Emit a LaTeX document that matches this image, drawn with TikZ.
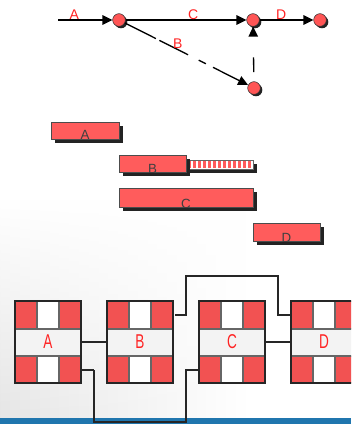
\documentclass[tikz,border=0pt]{standalone}
\usepackage{fontspec}
\usepackage{graphicx}
\setmainfont{Liberation Sans}
\usetikzlibrary{arrows.meta,calc,fadings}
\definecolor{evred}{RGB}{255,85,85}
\definecolor{barred}{RGB}{255,92,92}
\definecolor{labred}{RGB}{255,35,35}
\definecolor{cellred}{RGB}{242,82,82}
\definecolor{midgrey}{RGB}{243,243,243}
\definecolor{bandblue}{RGB}{32,118,174}
\definecolor{shadowgrey}{RGB}{35,35,35}

\tikzset{
  event/.style={circle, draw=black!80, fill=evred, minimum size=9.5pt, inner sep=0pt},
  act/.style={line width=1.5pt, -{Triangle[length=7.5pt,width=7pt]}},
  dummy/.style={line width=1pt, -{Triangle[length=7.5pt,width=7pt]}},
  netlab/.style={text=labred, font=\fontsize{10.5}{12}\selectfont, inner sep=1pt},
  ganttlab/.style={text=black!75, font=\fontsize{10}{12}\selectfont, inner sep=0pt, anchor=base},
  pbox/.style={fill=midgrey, minimum width=49.5pt, minimum height=61.5pt, inner sep=0pt,
    text=labred, font=\fontsize{15}{17}\selectfont},
  cellline/.style={draw=black!60, line width=0.8pt},
  boxline/.style={draw=black!85, line width=1.6pt},
  link/.style={draw=black!85, line width=0.8pt},
}

\newcommand{\eventnode}[3]{% name, x, y
  \fill[shadowgrey] (#2+2,#3+2) circle (6.3);
  \node[event] (#1) at (#2,#3) {};
}

\newcommand{\ganttbar}[5]{% x1, y1, x2, y2, label
  \fill[shadowgrey] (#1+4,#2+4) rectangle (#3+4,#4+4);
  \draw[black!70, fill=barred, line width=0.6pt] (#1,#2) rectangle (#3,#4);
  \node[ganttlab] at ({(#1+#3)/2},#4+1) {#5};
}

\newcommand{\pertbox}[3]{% name, centre x, label
  \node[pbox] (#1) at (#2,342) {\raisebox{-2.5pt}{\scalebox{0.68}[1]{#3}}};
  \foreach \c in {-33,11} {
    \fill[cellred] (#2+\c,301) rectangle ++(22,28);
    \fill[cellred] (#2+\c,356) rectangle ++(22,27);
  }
  \fill[white] (#2-11,301) rectangle ++(22,28);
  \fill[white] (#2-11,356) rectangle ++(22,27);
  \draw[cellline] (#2-33,329) -- ++(66,0) (#2-33,356) -- ++(66,0)
    (#2-11,301) -- (#2-11,329) (#2+11,301) -- (#2+11,329)
    (#2-11,356) -- (#2-11,383) (#2+11,356) -- (#2+11,383);
  \draw[boxline] (#1.north west) rectangle (#1.south east);
}

\begin{document}
\begin{tikzpicture}[x=0.75pt, y=-0.75pt]
\useasboundingbox (0,0) rectangle (351,424);
\clip (0,0) rectangle (351,424);

% background
\fill[white] (0,0) rectangle (351,424);
\shade[left color=black!10, right color=white, path fading=north] (0,200) rectangle (250,418);
\fill[bandblue] (0,418) rectangle (351,424);

% activity-on-arrow network
\coordinate (s) at (58,20);
\eventnode{e1}{119}{20}
\eventnode{e2}{253}{20}
\eventnode{e3}{320}{20}
\eventnode{e4}{254}{88}

\draw[act] (s) -- (e1) node[netlab, pos=0.3, above=-1.5pt] {A};
\draw[act] (e1) -- (e2) node[netlab, pos=0.56, above=-1.5pt] {C};
\draw[act] (e2) -- (e3) node[netlab, pos=0.4, above=-1.5pt] {D};
\draw[dummy, dash pattern=on 26pt off 3pt on 24pt off 9pt on 6pt off 6pt] (e1) -- (e4)
  node[netlab, pos=0.45, above, xshift=-2pt] {B};
\draw[dummy, dash pattern=on 0pt off 7pt on 11pt off 20pt] (e4) -- (e2);

% gantt bars
\ganttbar{51}{122}{119}{139}{A}
\fill[shadowgrey] (190,164) rectangle (257,173);
\draw[black!60, fill=white, line width=0.5pt] (186,160) rectangle (253,169);
\foreach \i in {0,...,12} {
  \fill[barred] (188+\i*5,161) rectangle ++(2.5,7);
}
\ganttbar{119}{155}{186}{172}{B}
\ganttbar{119}{188}{253}{207}{C}
\ganttbar{253}{223}{320}{241}{D}

% activity-on-node boxes
\draw[link] (94,370) -- (94,422) -| (186,370) -- (199,370);
\draw[link] (175,315) -- (186,315) -- (186,276) -| (278,315) -- (291,315);

\pertbox{A}{48}{A}
\pertbox{B}{140}{B}
\pertbox{C}{232}{C}
\pertbox{D}{324}{D}

\draw[link] (A) -- (B);
\draw[link, line width=1.6pt] (81,370) -- (94,370);
\draw[link, line width=1.6pt] (C) -- (D);
\end{tikzpicture}
\end{document}
